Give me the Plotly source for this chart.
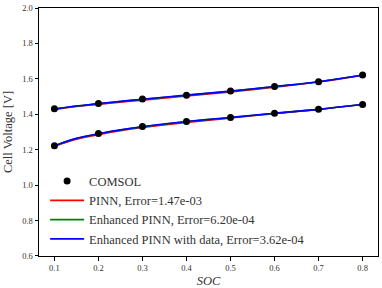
import plotly.graph_objects as go

soc_points = [0.1, 0.2, 0.3, 0.4, 0.5, 0.6, 0.7, 0.8]
comsol_upper = [1.431, 1.461, 1.486, 1.508, 1.531, 1.557, 1.584, 1.622]
comsol_lower = [1.222, 1.291, 1.331, 1.359, 1.382, 1.406, 1.428, 1.455]

soc_curve = [0.1, 0.12, 0.15, 0.2, 0.25, 0.3, 0.4, 0.5, 0.6, 0.7, 0.8]
pinn_upper = [1.427, 1.434, 1.444, 1.456, 1.468, 1.480, 1.503, 1.526, 1.553, 1.582, 1.621]
pinn_lower = [1.218, 1.236, 1.259, 1.285, 1.307, 1.325, 1.354, 1.379, 1.404, 1.428, 1.457]
enh_upper = [1.429, 1.436, 1.446, 1.459, 1.472, 1.484, 1.507, 1.530, 1.556, 1.584, 1.622]
enh_lower = [1.221, 1.240, 1.263, 1.289, 1.311, 1.329, 1.358, 1.382, 1.406, 1.428, 1.455]
data_upper = [1.429, 1.437, 1.447, 1.460, 1.473, 1.485, 1.508, 1.531, 1.557, 1.584, 1.622]
data_lower = [1.222, 1.241, 1.264, 1.290, 1.312, 1.330, 1.359, 1.382, 1.406, 1.428, 1.455]

y_ticks = [0.6, 0.8, 1.0, 1.2, 1.4, 1.6, 1.8, 2.0]

labels = ["COMSOL", "PINN, Error=1.47e-03", "Enhanced PINN, Error=6.20e-04",
          "Enhanced PINN with data, Error=3.62e-04"]
colors = ["black", "#ff0000", "#008000", "#0000ff"]

FONT = "Liberation Serif"

fig = go.Figure()
series = [(pinn_upper, pinn_lower), (enh_upper, enh_lower), (data_upper, data_lower)]
for i, (up, lo) in enumerate(series):
    for j, ys in enumerate((lo, up)):
        fig.add_trace(go.Scatter(
            x=soc_curve, y=ys, mode="lines", line=dict(color=colors[i + 1], width=1.6, shape="spline"),
            name=labels[i + 1], showlegend=(j == 0), legendrank=i + 2, legendgroup=labels[i + 1]))
for j, ys in enumerate((comsol_lower, comsol_upper)):
    fig.add_trace(go.Scatter(
        x=soc_points, y=ys, mode="markers", marker=dict(color="black", size=7),
        name=labels[0], showlegend=(j == 0), legendrank=1, legendgroup=labels[0]))

axis_common = dict(showline=True, linecolor="black", linewidth=1, mirror=True,
                   ticks="outside", ticklen=3.5, tickcolor="black", showgrid=False,
                   zeroline=False, ticklabeloverflow="allow",
                   tickfont=dict(family=FONT, size=8.5, color="#333333"))
fig.update_xaxes(range=[0.065, 0.835], tickvals=soc_points,
                 ticktext=[f"{v:.1f}" for v in soc_points],
                 title=dict(text="<i>SOC</i>", font=dict(family=FONT, size=12.5, color="#333333"), standoff=4),
                 **axis_common)
fig.update_yaxes(range=[0.5999, 2.0001], tickvals=y_ticks,
                 ticktext=[f"{v:.1f}" for v in y_ticks],
                 title=dict(text="Cell Voltage [V]", font=dict(family=FONT, size=12.5, color="#333333"), standoff=6),
                 **axis_common)
fig.update_layout(
    width=382, height=288, margin=dict(l=39, r=3, t=5, b=31),
    plot_bgcolor="white", paper_bgcolor="white",
    font=dict(family=FONT, color="#333333"),
    legend=dict(x=0.018, y=0.361, xanchor="left", yanchor="top", bgcolor="rgba(0,0,0,0)",
                font=dict(family=FONT, size=12.5, color="#333333"), itemwidth=34,
                tracegroupgap=2.7, traceorder="normal"),
)
fig.write_html("out.html", config={"displayModeBar": False},
               post_script="document.body.style.margin='0';document.body.style.overflow='hidden';")
